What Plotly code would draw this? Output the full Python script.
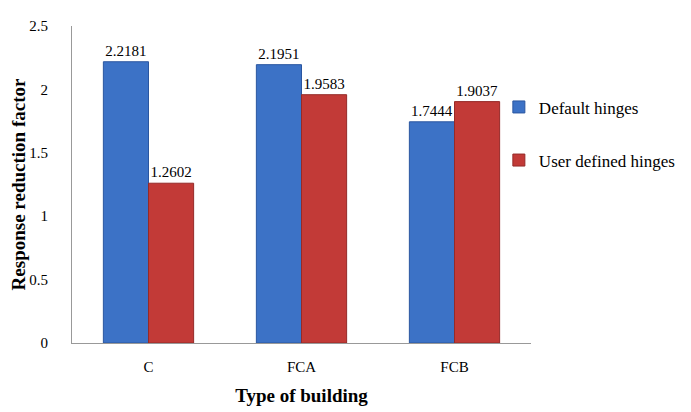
import plotly.graph_objects as go

buildings = ["C", "FCA", "FCB"]
default_hinges = [2.2181, 2.1951, 1.7444]
user_hinges = [1.2602, 1.9583, 1.9037]

serif = "Liberation Serif, Times New Roman, serif"

fig = go.Figure()
fig.add_trace(go.Bar(
    name="Default hinges", x=buildings, y=default_hinges,
    marker=dict(color="#3c72c6", line=dict(color="#2a56a0", width=1)),
    text=default_hinges, texttemplate="%{y:.4f}", textposition="outside",
    textfont=dict(family=serif, size=15, color="#000"),
    cliponaxis=False, legendgroup="a",
))
fig.add_trace(go.Bar(
    name="User defined hinges", x=buildings, y=user_hinges,
    marker=dict(color="#c23a37", line=dict(color="#952a28", width=1)),
    text=user_hinges, texttemplate="%{y:.4f}", textposition="outside",
    textfont=dict(family=serif, size=15, color="#000"),
    cliponaxis=False, legendgroup="b",
))

fig.update_layout(
    width=691, height=412,
    margin=dict(l=64, r=168, t=18, b=77, autoexpand=False),
    paper_bgcolor="white", plot_bgcolor="white",
    font=dict(family=serif, size=15, color="#000"),
    barmode="group", bargap=0.41, bargroupgap=0,
    legend=dict(x=0.93, y=0.80, xanchor="left", yanchor="top",
                bgcolor="rgba(0,0,0,0)",
                font=dict(size=17), tracegroupgap=28,
                traceorder="grouped", itemwidth=30),
    xaxis=dict(showline=True, linecolor="#999", linewidth=1, ticks="",
               ticklabelstandoff=10,
               title=dict(text="<b>Type of building</b>", font=dict(size=19), standoff=14)),
    yaxis=dict(range=[0, 2.5], dtick=0.5, showline=True, linecolor="#999", linewidth=1,
               showgrid=False, zeroline=False, ticks="", ticklabelstandoff=20,
               title=dict(text="<b>Response reduction factor</b>", font=dict(size=19), standoff=8)),
)

fig.write_html("out.html")
